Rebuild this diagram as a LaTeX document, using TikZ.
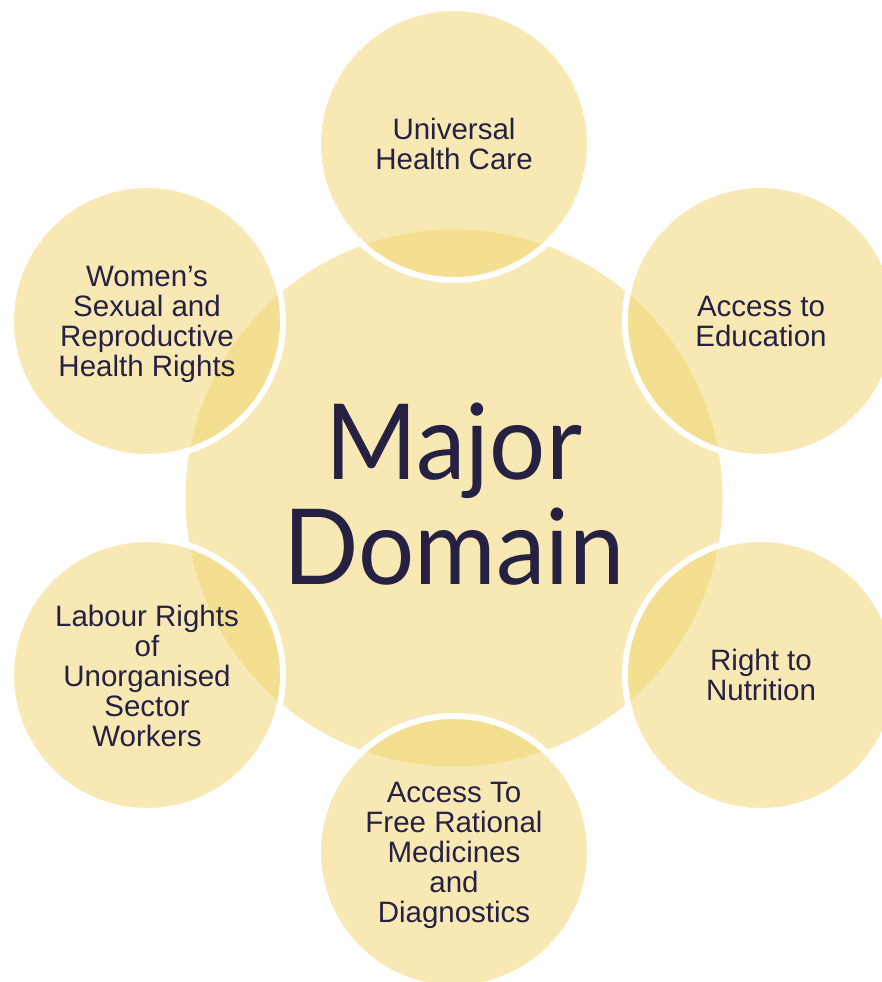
\documentclass[tikz,border=0pt]{standalone}
\usepackage{fontspec}
\setmainfont{Liberation Sans}
\newfontfamily\bigfont[FakeStretch=0.945]{Lato}
\definecolor{circfill}{RGB}{241,213,111}
\definecolor{txt}{RGB}{38,33,66}
\tikzset{
  maincirc/.style={circle, fill=circfill, fill opacity=0.52, draw=none, minimum size=537pt, inner sep=0pt},
  subcirc/.style={circle, fill=circfill, fill opacity=0.52, draw=white, line width=6pt, minimum size=272pt, inner sep=0pt},
  sublabel/.style={text=txt, align=center, font=\fontsize{29.5}{30}\selectfont, inner sep=0pt, text opacity=1},
  mainlabel/.style={text=txt, align=center, font=\bigfont\fontsize{105}{105}\selectfont, inner sep=0pt, text opacity=1}
}
\begin{document}
\begin{tikzpicture}[x=1pt,y=-1pt]
\useasboundingbox (0,0) rectangle (882,982);
\clip (0,0) rectangle (882,982);
\node[maincirc] (main) at (454,498) {};
\node[subcirc] (uhc) at (454,144) {};
\node[subcirc] (edu) at (761,321) {};
\node[subcirc] (nut) at (761,675) {};
\node[subcirc] (med) at (454,852) {};
\node[subcirc] (lab) at (147,675) {};
\node[subcirc] (wom) at (147,321) {};
\node[mainlabel] (mainT) at (454,494) {Major\\Domain};
\node[sublabel] (uhcT) at (454,144) {Universal\\Health Care};
\node[sublabel] (eduT) at (761,321) {Access to\\Education};
\node[sublabel] (nutT) at (761,675) {Right to\\Nutrition};
\node[sublabel] (medT) at (454,855) {Access To\\Free Rational\\Medicines\\and\\Diagnostics};
\node[sublabel] (labT) at (147,676) {Labour Rights\\of\\Unorganised\\Sector\\Workers};
\node[sublabel] (womT) at (147,324) {Women’s\\Sexual and\\Reproductive\\Health Rights};
\end{tikzpicture}
\end{document}
